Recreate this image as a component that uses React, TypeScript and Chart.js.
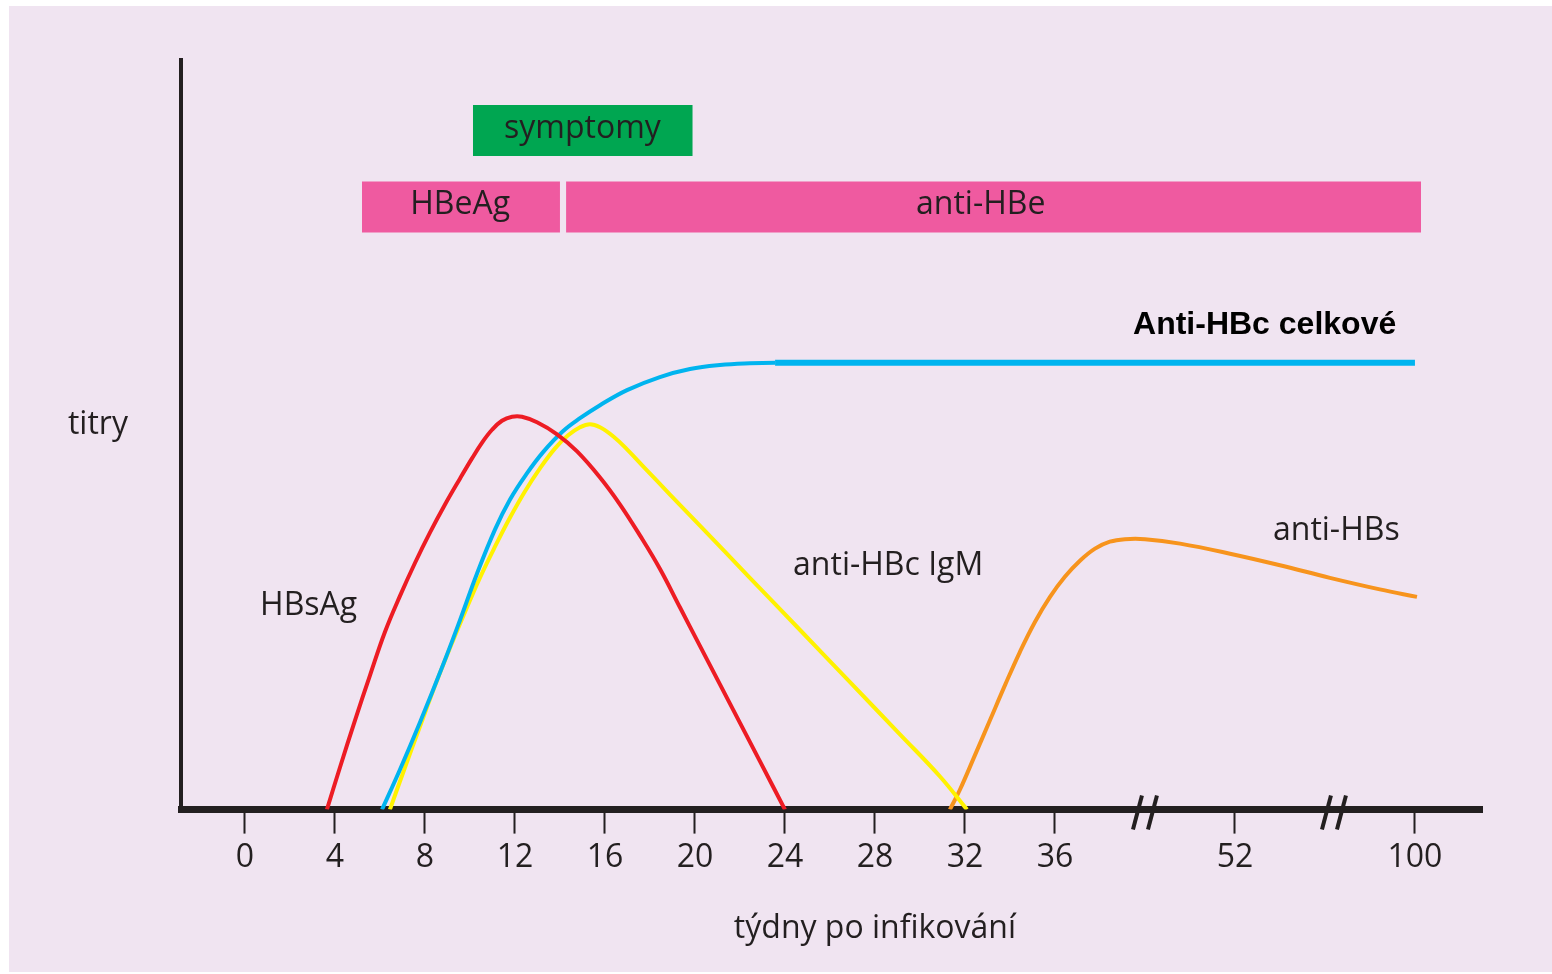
import React, { useEffect, useRef } from 'react';
import { Chart, registerables } from 'chart.js';

Chart.register(...registerables);

// ---- data (x = position on the broken week axis, y = relative titre) ----
const hbsAgWeeks = [3.64, 4.22, 4.89, 5.56, 6.22, 6.89, 7.56, 8.22, 8.89, 9.56, 10.09, 10.53, 10.98, 11.42, 11.87, 12.31, 12.98, 13.87, 14.76, 15.78, 16.67, 17.56, 18.44, 19.33, 20.22, 21.11, 22.0, 22.89, 24.0];
const hbsAgTiters = [0, 5.62, 11.91, 17.94, 23.69, 28.51, 32.93, 36.95, 40.7, 44.18, 46.85, 48.93, 50.67, 51.87, 52.41, 52.41, 51.67, 50.07, 47.79, 44.31, 40.7, 36.55, 32.13, 26.99, 21.85, 16.71, 11.57, 6.43, 0];

const antiHbcTotalWeeks = [6.09, 6.89, 7.78, 8.8, 9.56, 10.31, 11.11, 11.78, 12.53, 13.24, 14.13, 14.89, 15.78, 16.98, 18.44, 19.78, 21.11, 22.44, 23.56, 52.0];
const antiHbcTotalTiters = [0, 5.35, 11.65, 19.28, 25.3, 31.46, 37.35, 41.37, 44.85, 47.66, 50.47, 52.21, 53.95, 55.96, 57.7, 58.77, 59.3, 59.53, 59.6, 59.6];

const antiHbcIgmWeeks = [6.44, 7.11, 7.78, 8.44, 9.11, 9.78, 10.44, 11.11, 11.78, 12.44, 13.11, 13.78, 14.36, 14.89, 15.33, 15.78, 16.36, 16.98, 17.78, 18.89, 20.22, 22.44, 24.67, 26.89, 29.11, 30.89, 32.09];
const antiHbcIgmTiters = [0, 5.62, 11.11, 16.47, 21.55, 26.37, 30.92, 35.07, 38.96, 42.44, 45.52, 48.19, 49.93, 51.0, 51.41, 51.0, 49.8, 48.06, 45.52, 42.03, 37.88, 30.92, 23.96, 17.0, 10.04, 4.42, 0];

const antiHbsWeeks = [31.33, 31.78, 32.44, 33.11, 33.78, 34.44, 35.11, 35.78, 36.44, 37.11, 37.78, 38.44, 39.11, 40.0, 41.56, 43.78, 46.0, 48.22, 50.44, 52.09];
const antiHbsTiters = [0, 2.68, 7.23, 11.91, 16.6, 21.02, 25.03, 28.38, 31.06, 33.2, 34.81, 35.74, 36.08, 36.08, 35.48, 34.14, 32.6, 30.92, 29.38, 28.38];

// bands: [start, end] on the week axis, [bottom, top] on the titre axis
const symptomsSpan = [10.13, 19.9];
const hbeAgSpan = [5.2, 14.0];
const antiHbeSpan = [14.27, 52.27];
const symptomsLevels = [87.2, 94.0];
const hbeLevels = [77.0, 83.8];

// axis
const tickPositions = [0, 4, 8, 12, 16, 20, 24, 28, 32, 36, 44, 52];
const tickLabels = ['0', '4', '8', '12', '16', '20', '24', '28', '32', '36', '52', '100'];
const axisBreaks = [40, 48.4];

// text annotations, anchored in axis units
const noteTexts = ['titry', 'HBsAg', 'anti-HBc IgM', 'anti-HBs', 'Anti-HBc celkové', 'symptomy', 'HBeAg', 'anti-HBe', 'týdny po infikování'];
const noteWeeks = [-7.87, 0.67, 24.36, 45.69, 39.47, 15.0, 9.56, 32.7, 28.0];
const noteTiters = [50.1, 26.0, 31.3, 35.9, 63.5, 89.6, 79.5, 79.5, -17.1];
const noteAlign = ['left', 'left', 'left', 'left', 'left', 'center', 'center', 'center', 'center'];
const noteBold = [false, false, false, false, true, false, false, false, false];

const TEXT = '#231F20';
const FONT = '"Open Sans", "DejaVu Sans", sans-serif';

const zip = (xs: number[], ys: number[]) => xs.map((x, i) => ({ x, y: ys[i] }));

const band = (span: number[], levels: number[], color: string) => ({
  data: span.map((x) => ({ x, y: levels[1] })),
  borderWidth: 0,
  borderColor: 'transparent',
  backgroundColor: color,
  pointRadius: 0,
  fill: { value: levels[0] },
  tension: 0,
});

const curve = (xs: number[], ys: number[], color: string, width: number) => ({
  data: zip(xs, ys),
  borderColor: color,
  borderWidth: width,
  pointRadius: 0,
  fill: false,
  tension: 0.4,
});

const breaksPlugin = {
  id: 'axisBreaks',
  afterDraw(chart: any) {
    const { ctx, scales } = chart;
    const base = scales.y.getPixelForValue(0);
    ctx.save();
    ctx.strokeStyle = TEXT;
    ctx.lineWidth = 4;
    ctx.lineCap = 'butt';
    axisBreaks.forEach((v) => {
      const cx = scales.x.getPixelForValue(v);
      [-7.5, 7.5].forEach((dx) => {
        ctx.beginPath();
        ctx.moveTo(cx + dx + 4.5, base - 14);
        ctx.lineTo(cx + dx - 4.5, base + 20);
        ctx.stroke();
      });
    });
    ctx.restore();
  },
};

const notesPlugin = {
  id: 'notes',
  afterDatasetsDraw(chart: any) {
    const { ctx, scales } = chart;
    ctx.save();
    ctx.textBaseline = 'alphabetic';
    noteTexts.forEach((t, i) => {
      ctx.font = noteBold[i] ? 'bold 32px "Liberation Sans", Arial, sans-serif' : `32px ${FONT}`;
      ctx.fillStyle = noteBold[i] ? '#000000' : TEXT;
      ctx.textAlign = noteAlign[i];
      ctx.fillText(t, scales.x.getPixelForValue(noteWeeks[i]), scales.y.getPixelForValue(noteTiters[i]));
    });
    ctx.restore();
  },
};

export default function App() {
  const ref = useRef<HTMLCanvasElement | null>(null);

  useEffect(() => {
    if (!ref.current) return;
    const chart = new Chart(ref.current, {
      type: 'line',
      data: {
        datasets: [
          curve(hbsAgWeeks, hbsAgTiters, '#ED1C24', 4),
          {
            ...curve(antiHbcTotalWeeks, antiHbcTotalTiters, '#00B4EF', 4),
            segment: { borderWidth: (c: any) => (c.p0.parsed.x >= 23 ? 6 : 4) },
          },
          curve(antiHbcIgmWeeks, antiHbcIgmTiters, '#FFF200', 4),
          curve(antiHbsWeeks, antiHbsTiters, '#F7941D', 4),
          band(symptomsSpan, symptomsLevels, '#00A651'),
          band(hbeAgSpan, hbeLevels, '#EF5AA0'),
          band(antiHbeSpan, hbeLevels, '#EF5AA0'),
        ] as any,
      },
      options: {
        responsive: false,
        animation: false,
        events: [],
        layout: { padding: { left: 181, right: 70, top: 60, bottom: 92 } },
        plugins: { legend: { display: false }, tooltip: { enabled: false } },
        scales: {
          x: {
            type: 'linear',
            min: -2.844,
            max: 54.98,
            afterBuildTicks: (scale: any) => {
              scale.ticks = tickPositions.map((value) => ({ value }));
            },
            ticks: {
              autoSkip: false,
              maxRotation: 0,
              padding: 5,
              color: TEXT,
              font: { family: FONT, size: 32, lineHeight: 1.2 },
              callback: (_v: any, i: number) => tickLabels[i],
            },
            grid: {
              display: true,
              drawOnChartArea: false,
              drawTicks: true,
              tickLength: 24,
              tickWidth: 2,
              tickColor: TEXT,
            },
            border: { display: true, width: 7, color: TEXT },
            title: { display: false },
          },
          y: {
            type: 'linear',
            min: 0,
            max: 100,
            ticks: { display: false },
            grid: { display: false, drawTicks: false },
            border: { display: true, width: 4, color: TEXT },
          },
        },
      },
      plugins: [breaksPlugin, notesPlugin],
    } as any);
    return () => chart.destroy();
  }, []);

  return (
    <div style={{ position: 'fixed', left: 0, top: 0, width: 1552, height: 974, background: '#FFFFFF' }}>
      <div style={{ position: 'absolute', left: 9, top: 6, width: 1543, height: 966, background: '#F0E4F1' }} />
      <canvas ref={ref} width={1552} height={974} style={{ position: 'absolute', left: 0, top: 0, width: 1552, height: 974 }} />
    </div>
  );
}
